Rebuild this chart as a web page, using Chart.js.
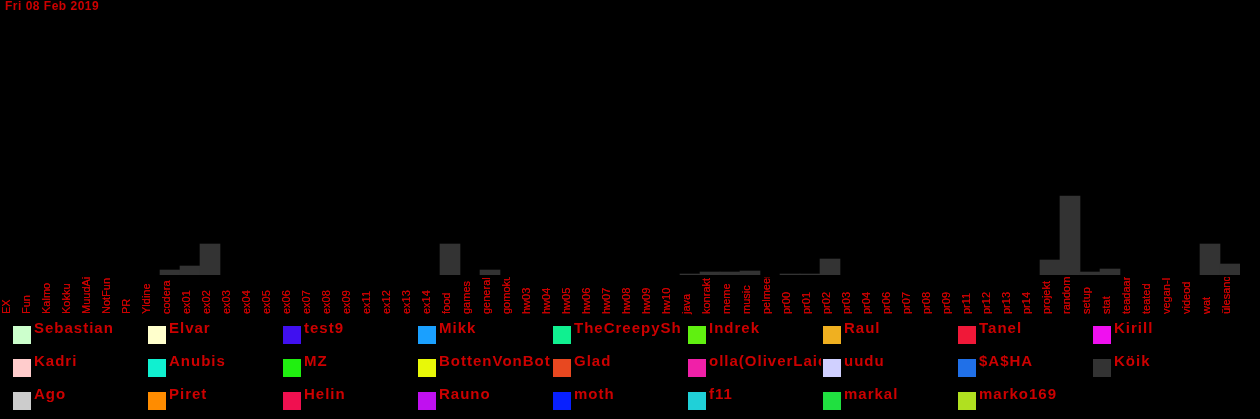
<!DOCTYPE html>
<html>
<head>
<meta charset="utf-8">
<script src="https://cdn.jsdelivr.net/npm/chart.js@4/dist/chart.umd.min.js"></script>
<style>
html,body{margin:0;padding:0;background:#000;overflow:hidden;}
#wrap{position:relative;width:1260px;height:419px;}
</style>
</head>
<body>
<div id="wrap"><canvas id="c" width="1260" height="419"></canvas></div>
<script>
const TITLE = 'Fri 08 Feb 2019';
const categories = ['EX','Fun','Kalmo','Kokku','MuudAi','NotFun','PR','Yldine','codera','ex01','ex02','ex03','ex04','ex05','ex06','ex07','ex08','ex09','ex11','ex12','ex13','ex14','food','games','general','gomoku','hw03','hw04','hw05','hw06','hw07','hw08','hw09','hw10','java','konrakt','meme','music','pelmeen','pr00','pr01','pr02','pr03','pr04','pr06','pr07','pr08','pr09','pr11','pr12','pr13','pr14','projekt','random','setup','stat','teadaar','teated','vegan-l','videod','wat','ülesand'];
const koikValues = [null,null,null,null,null,null,null,null,5,9,31,null,null,null,null,null,null,null,null,null,null,null,31,null,5,null,null,null,null,null,null,null,null,null,1,3,3,4,null,1,1,16,null,null,null,null,null,null,null,null,null,null,15,79,3,6,null,null,null,null,31,11];
const seriesNames = ['Sebastian','Elvar','test9','Mikk','TheCreepySh','Indrek','Raul','Tanel','Kirill','Kadri','Anubis','MZ','BottenVonBot','Glad','olla(OliverLaid','uudu','$A$HA','Köik','Ago','Piret','Helin','Rauno','moth','f11','markal','marko169'];
const seriesColors = ['#ccffcc','#ffffcc','#4010f0','#1aa0ff','#10f090','#60f010','#f0b020','#f01838','#f010f0','#ffcccc','#10f0d0','#20f010','#e8f808','#e84820','#f020a8','#d0d0ff','#2070e8','#333333','#cccccc','#ff8c00','#f01050','#c010f0','#0820ff','#20d0d8','#20e040','#b0e020'];
const RED = '#cc0000';

const datasets = seriesNames.map((n,i)=>({
  label: n,
  data: n === 'Köik' ? koikValues : [],
  backgroundColor: seriesColors[i],
  borderWidth: 0,
  barPercentage: 1,
  categoryPercentage: 1,
  skipNull: true
}));

const overlay = {
  id: 'overlay',
  afterDraw(chart){
    const ctx = chart.ctx;
    const xs = chart.scales.x;
    // title
    ctx.save();
    ctx.fillStyle = RED;
    ctx.font = 'bold 12px "Liberation Sans", Arial, sans-serif';
    ctx.letterSpacing = '0.5px';
    ctx.textAlign = 'left';
    ctx.textBaseline = 'alphabetic';
    ctx.fillText(TITLE, 5, 10);
    ctx.restore();
    // x labels, bottom-anchored, reading upward
    ctx.save();
    ctx.beginPath();
    ctx.rect(0, chart.chartArea.bottom + 2, chart.width, 45);
    ctx.clip();
    ctx.fillStyle = RED;
    ctx.font = '11px "Liberation Sans", Arial, sans-serif';
    ctx.letterSpacing = '0px';
    categories.forEach((c,i)=>{
      const x = xs.getPixelForValue(i);
      ctx.save();
      ctx.translate(x, 314);
      ctx.rotate(-Math.PI/2);
      ctx.textAlign = 'left';
      ctx.textBaseline = 'alphabetic';
      ctx.fillText(c, 0, 0);
      ctx.fillText(c, 0, -0.4);
      ctx.restore();
    });
    ctx.restore();
    // legend
    ctx.save();
    ctx.font = 'bold 15px "Liberation Sans", Arial, sans-serif';
    ctx.letterSpacing = '1px';
    chart.data.datasets.forEach((ds,i)=>{
      const col = i % 9, row = Math.floor(i / 9);
      const bx = 13 + 135*col, by = 326 + 33*row;
      ctx.fillStyle = ds.backgroundColor;
      ctx.fillRect(bx, by, 18, 18);
      ctx.save();
      ctx.beginPath();
      ctx.rect(bx + 20, by - 10, 113, 30);
      ctx.clip();
      ctx.fillStyle = RED;
      ctx.textAlign = 'left';
      ctx.textBaseline = 'alphabetic';
      ctx.fillText(ds.label, bx + 21, by + 7);
      ctx.restore();
    });
    ctx.restore();
  }
};

new Chart(document.getElementById('c'), {
  type: 'bar',
  data: { labels: categories, datasets },
  options: {
    responsive: false,
    animation: false,
    layout: { padding: { top: 15, bottom: 144, left: 0, right: 20 } },
    plugins: { legend: { display: false }, title: { display: false }, tooltip: { enabled: false } },
    scales: {
      x: { stacked: true, display: false, offset: true, grid: { display: false } },
      y: { stacked: true, display: false, min: 0, max: 260 }
    }
  },
  plugins: [overlay]
});
</script>
</body>
</html>
